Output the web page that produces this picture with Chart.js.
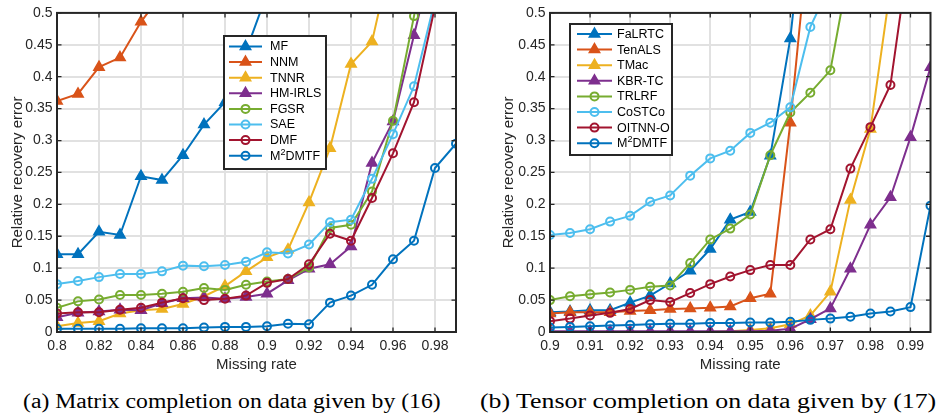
<!DOCTYPE html>
<html>
<head>
<meta charset="utf-8">
<script src="https://cdn.jsdelivr.net/npm/chart.js@4.4.1/dist/chart.umd.min.js"></script>
<style>
  html, body { margin: 0; padding: 0; background: #fff; }
  body { width: 938px; height: 416px; position: relative; overflow: hidden; }
  canvas { position: absolute; top: 0; }
  #left { left: 0; }
  #right { left: 470px; }
  .cap { position: absolute; top: 391px; font: 20px 'Liberation Serif', 'Times New Roman', serif;
         line-height: 20px; white-space: nowrap; color: #000; transform-origin: 0 50%; }
</style>
</head>
<body>
<canvas id="left" width="470" height="372"></canvas>
<canvas id="right" width="468" height="372"></canvas>
<div class="cap" id="capA">(a) Matrix completion on data given by (16)</div>
<div class="cap" id="capB">(b) Tensor completion on data given by (17)</div>
<script>
// ---- data ----
const xLeft = [0.80, 0.81, 0.82, 0.83, 0.84, 0.85, 0.86, 0.87, 0.88, 0.89,
               0.90, 0.91, 0.92, 0.93, 0.94, 0.95, 0.96, 0.97, 0.98, 0.99];
const xLeftTicks = [0.8, 0.82, 0.84, 0.86, 0.88, 0.9, 0.92, 0.94, 0.96, 0.98];

const mf     = [0.122, 0.122, 0.157, 0.152, 0.244, 0.238, 0.277, 0.325, 0.360, 0.440,
                0.530, 0.620, 0.700, 0.780, 0.850, 0.900, 0.940, 0.960, 0.980, 0.990];
const nnm    = [0.362, 0.373, 0.415, 0.430, 0.486, 0.530, 0.580, 0.630, 0.680, 0.720,
                0.760, 0.800, 0.840, 0.870, 0.900, 0.920, 0.940, 0.960, 0.970, 0.980];
const tnnr   = [0.009, 0.014, 0.017, 0.029, 0.034, 0.036, 0.044, 0.056, 0.072, 0.095,
                0.117, 0.129, 0.203, 0.288, 0.420, 0.455, 0.600, 0.750, 0.850, 0.900];
const hmirls = [0.023, 0.030, 0.032, 0.035, 0.034, 0.045, 0.053, 0.054, 0.052, 0.055,
                0.060, 0.081, 0.099, 0.106, 0.134, 0.265, 0.330, 0.465, 0.600, 0.700];
const fgsr   = [0.038, 0.048, 0.051, 0.058, 0.058, 0.060, 0.063, 0.069, 0.066, 0.074,
                0.079, 0.083, 0.101, 0.163, 0.168, 0.220, 0.331, 0.495, 0.650, 0.750];
const sae    = [0.075, 0.080, 0.086, 0.091, 0.091, 0.095, 0.104, 0.103, 0.105, 0.110,
                0.125, 0.123, 0.137, 0.172, 0.176, 0.240, 0.310, 0.385, 0.520, 0.650];
const dmf    = [0.029, 0.031, 0.031, 0.035, 0.038, 0.046, 0.053, 0.050, 0.052, 0.057,
                0.077, 0.083, 0.106, 0.154, 0.143, 0.210, 0.280, 0.360, 0.510, 0.650];
const m2Left = [0.005, 0.005, 0.005, 0.005, 0.006, 0.006, 0.006, 0.007, 0.008, 0.008,
                0.009, 0.013, 0.012, 0.046, 0.057, 0.074, 0.114, 0.143, 0.257, 0.295];

const xRight = [0.900, 0.905, 0.910, 0.915, 0.920, 0.925, 0.930, 0.935, 0.940, 0.945,
                0.950, 0.955, 0.960, 0.965, 0.970, 0.975, 0.980, 0.985, 0.990, 0.995];
const xRightTicks = [0.9, 0.91, 0.92, 0.93, 0.94, 0.95, 0.96, 0.97, 0.98, 0.99];

const falrtc  = [0.031, 0.032, 0.034, 0.034, 0.046, 0.057, 0.076, 0.096, 0.130, 0.176,
                 0.188, 0.276, 0.460, 0.750, 0.900, 0.950, 0.970, 0.980, 0.990, 0.995];
const tenals  = [0.029, 0.031, 0.031, 0.031, 0.033, 0.034, 0.036, 0.037, 0.038, 0.040,
                 0.053, 0.060, 0.328, 0.650, 0.850, 0.900, 0.920, 0.940, 0.950, 0.960];
const tmac    = [0.000, 0.000, 0.000, 0.000, 0.000, 0.000, 0.000, 0.000, 0.000, 0.001,
                 0.003, 0.006, 0.012, 0.026, 0.063, 0.207, 0.318, 0.540, 0.700, 0.800];
const kbrtc   = [0.001, 0.001, 0.001, 0.001, 0.001, 0.001, 0.001, 0.001, 0.001, 0.001,
                 0.001, 0.002, 0.005, 0.020, 0.037, 0.099, 0.168, 0.211, 0.305, 0.415];
const trlrf   = [0.050, 0.056, 0.059, 0.062, 0.066, 0.071, 0.073, 0.108, 0.145, 0.162,
                 0.184, 0.277, 0.344, 0.375, 0.410, 0.580, 0.700, 0.800, 0.850, 0.900];
const costco  = [0.152, 0.155, 0.161, 0.173, 0.182, 0.204, 0.214, 0.245, 0.272, 0.284,
                 0.312, 0.328, 0.352, 0.478, 0.545, 0.650, 0.750, 0.800, 0.850, 0.900];
const oitnn   = [0.017, 0.021, 0.026, 0.030, 0.036, 0.050, 0.047, 0.061, 0.075, 0.087,
                 0.097, 0.105, 0.105, 0.145, 0.161, 0.256, 0.321, 0.387, 0.610, 0.750];
const m2Right = [0.007, 0.008, 0.009, 0.010, 0.011, 0.012, 0.013, 0.013, 0.014, 0.014,
                 0.015, 0.015, 0.016, 0.019, 0.021, 0.024, 0.029, 0.032, 0.039, 0.198];

const yTicks = [0, 0.05, 0.1, 0.15, 0.2, 0.25, 0.3, 0.35, 0.4, 0.45, 0.5];

// matlab default line colours
const C = {
  blue: '#0072BD', orange: '#D95319', yellow: '#EDB120', purple: '#7E2F8E',
  green: '#77AC30', cyan: '#4DBEEE', red: '#A2142F',
};
const AXIS = '#262626';
const GRID = '#e1e1e1';
const FONT = "'Liberation Sans', Arial, Helvetica, sans-serif";

const leftSeries = [
  ['MF', mf, C.blue, 'triangle'],
  ['NNM', nnm, C.orange, 'triangle'],
  ['TNNR', tnnr, C.yellow, 'triangle'],
  ['HM-IRLS', hmirls, C.purple, 'triangle'],
  ['FGSR', fgsr, C.green, 'circle'],
  ['SAE', sae, C.cyan, 'circle'],
  ['DMF', dmf, C.red, 'circle'],
  ['M^2DMTF', m2Left, C.blue, 'circle'],
];
const rightSeries = [
  ['FaLRTC', falrtc, C.blue, 'triangle'],
  ['TenALS', tenals, C.orange, 'triangle'],
  ['TMac', tmac, C.yellow, 'triangle'],
  ['KBR-TC', kbrtc, C.purple, 'triangle'],
  ['TRLRF', trlrf, C.green, 'circle'],
  ['CoSTCo', costco, C.cyan, 'circle'],
  ['OITNN-O', oitnn, C.red, 'circle'],
  ['M^2DMTF', m2Right, C.blue, 'circle'],
];

function marker(ctx, style, x, y, color) {
  ctx.save();
  ctx.strokeStyle = color;
  ctx.lineWidth = 1.5;
  ctx.beginPath();
  if (style === 'triangle') {
    const r = 6;
    ctx.moveTo(x, y - r);
    ctx.lineTo(x + r * 0.866, y + r * 0.5);
    ctx.lineTo(x - r * 0.866, y + r * 0.5);
    ctx.closePath();
    ctx.fillStyle = color;
    ctx.fill();
  } else {
    ctx.lineWidth = 2;
    ctx.arc(x, y, 4, 0, Math.PI * 2);
  }
  ctx.stroke();
  ctx.restore();
}

// tex-ish label: "M^2DMTF" -> M, raised 2, DMTF
function texLabel(ctx, text, x, y, size) {
  const parts = text.split(/\^(\w)/);
  parts.forEach((p, i) => {
    const sup = i % 2 === 1;
    ctx.font = (sup ? size * 0.72 : size) + 'px ' + FONT;
    ctx.fillText(p, x, sup ? y - size * 0.3 : y);
    x += ctx.measureText(p).width;
  });
}

// inward ticks on all four sides + box, like matlab "box on"
const frameTicks = {
  id: 'frameTicks',
  afterDatasetsDraw(chart) {
    const { ctx, chartArea: a, scales: { x, y } } = chart;
    const TL = 4.5;
    ctx.save();
    ctx.strokeStyle = AXIS;
    ctx.lineWidth = 1.3;
    ctx.beginPath();
    x.ticks.forEach((t) => {
      const px = x.getPixelForValue(t.value);
      ctx.moveTo(px, a.bottom); ctx.lineTo(px, a.bottom - TL);
      ctx.moveTo(px, a.top); ctx.lineTo(px, a.top + TL);
    });
    y.ticks.forEach((t) => {
      const py = y.getPixelForValue(t.value);
      ctx.moveTo(a.left, py); ctx.lineTo(a.left + TL, py);
      ctx.moveTo(a.right, py); ctx.lineTo(a.right - TL, py);
    });
    ctx.stroke();
    ctx.lineWidth = 2;
    ctx.strokeRect(a.left, a.top, a.right - a.left, a.bottom - a.top);
    ctx.restore();
  },
};

// matlab-like legend: line segment with marker, boxed
const boxLegend = {
  id: 'boxLegend',
  afterDraw(chart, args, o) {
    const ctx = chart.ctx;
    ctx.save();
    ctx.fillStyle = '#fff';
    ctx.fillRect(o.x, o.y, o.w, o.h);
    ctx.strokeStyle = AXIS;
    ctx.lineWidth = 2;
    ctx.strokeRect(o.x, o.y, o.w, o.h);
    ctx.textBaseline = 'middle';
    chart.data.datasets.forEach((ds, i) => {
      const cy = o.y + o.first + i * o.step;
      ctx.strokeStyle = ds.borderColor;
      ctx.lineWidth = 2;
      ctx.beginPath();
      ctx.moveTo(o.x + o.lineFrom, cy);
      ctx.lineTo(o.x + o.lineTo, cy);
      ctx.stroke();
      marker(ctx, ds.pointStyle, o.x + (o.lineFrom + o.lineTo) / 2, cy, ds.borderColor);
      ctx.fillStyle = '#000';
      texLabel(ctx, ds.label, o.x + o.text, cy + 0.5, 12.5);
    });
    ctx.restore();
  },
};

function build(id, xs, series, xTicks, xMin, xMax, lay) {
  const n = series.length;
  const datasets = series.map(([label, ys, color, style], i) => ({
    label,
    data: xs.map((x, k) => ({ x, y: ys[k] })),
    borderColor: color,
    backgroundColor: color,
    borderWidth: 2,
    pointStyle: style,
    pointRadius: style === 'triangle' ? 6 : 4,
    pointBorderWidth: style === 'triangle' ? 1.5 : 2,
    pointBackgroundColor: style === 'triangle' ? color : 'rgba(0,0,0,0)',
    pointBorderColor: color,
    tension: 0,
    order: n - i, // later series drawn on top, as in matlab
  }));
  return new Chart(document.getElementById(id), {
    type: 'line',
    data: { datasets },
    options: {
      responsive: false,
      animation: false,
      events: [],
      layout: { padding: { top: 7, right: lay.right, left: 0, bottom: 0 } },
      plugins: {
        legend: { display: false },
        tooltip: { enabled: false },
        boxLegend: lay.legend,
      },
      scales: {
        x: {
          type: 'linear', min: xMin, max: xMax,
          afterBuildTicks: (s) => { s.ticks = xTicks.map((v) => ({ value: v })); },
          afterFit: (s) => { s.height = 40; },
          grid: { color: GRID, lineWidth: 2, drawTicks: false },
          border: { display: false },
          ticks: {
            padding: 6, color: AXIS, font: { family: FONT, size: 14 },
            maxRotation: 0, autoSkip: false,
            callback: (v) => String(+v.toFixed(3)),
          },
          title: {
            display: true, text: 'Missing rate', color: AXIS,
            font: { family: FONT, size: 15, lineHeight: 1 }, padding: 0,
          },
        },
        y: {
          min: 0, max: 0.5,
          afterBuildTicks: (s) => { s.ticks = yTicks.map((v) => ({ value: v })); },
          afterFit: (s) => { s.width = lay.yWidth; },
          grid: { color: GRID, lineWidth: 2, drawTicks: false },
          border: { display: false },
          ticks: {
            padding: 4.5, color: AXIS, font: { family: FONT, size: 14 },
            callback: (v) => String(+v.toFixed(3)),
          },
          title: {
            display: true, text: 'Relative recovery error', color: AXIS,
            font: { family: FONT, size: 15, lineHeight: 1 },
            padding: { top: lay.yTitle, bottom: 0 },
          },
        },
      },
    },
    plugins: [frameTicks, boxLegend],
  });
}

build('left', xLeft, leftSeries, xLeftTicks, 0.8, 0.99, {
  right: 14, yWidth: 57, yTitle: 10,
  legend: { x: 224, y: 36, w: 102, h: 133, first: 10.5, step: 15.6, lineFrom: 5, lineTo: 38, text: 46 },
});
build('right', xRight, rightSeries, xRightTicks, 0.9, 0.995, {
  right: 1, yWidth: 80, yTitle: 31,
  legend: { x: 100, y: 24, w: 102, h: 131, first: 10, step: 15.6, lineFrom: 7, lineTo: 42, text: 47 },
});

// captions: stretch to the width they occupy in the figure
[['capA', 23, 418], ['capB', 480, 456]].forEach(([id, left, w]) => {
  const el = document.getElementById(id);
  el.style.left = left + 'px';
  el.style.transform = 'scaleX(' + (w / el.offsetWidth) + ')';
});
</script>
</body>
</html>
